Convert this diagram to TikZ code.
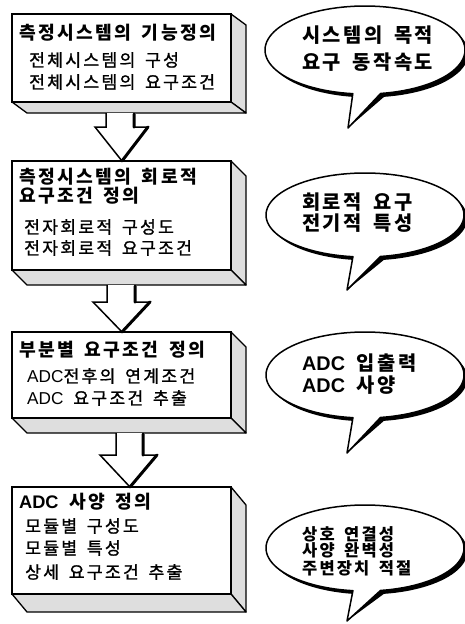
\documentclass[tikz,border=0pt]{standalone}
\usepackage{fontspec}
\newfontfamily\kr[LetterSpace=13, WordSpace=1.6]{Noto Sans CJK KR}
\newfontfamily\krm[LetterSpace=13, WordSpace=1.6, FakeBold=1.2]{Noto Sans CJK KR}
\newfontfamily\arl{Liberation Sans}
\usetikzlibrary{calc}
\tikzset{
  front/.style={draw, line width=1.6pt, fill=white, inner sep=0pt, outer sep=0pt, anchor=north west},
  sideface/.style={draw, line width=1.3pt, fill=black!13, line join=round},
  ttl/.style={anchor=west, inner sep=0pt, font=\kr\bfseries\fontsize{18.2}{18.2}\selectfont},
  itm/.style={anchor=west, inner sep=0pt, font=\krm\fontsize{17.2}{17.2}\selectfont},
  btxt/.style={anchor=west, inner sep=0pt, font=\kr\bfseries\fontsize{19.8}{19.8}\selectfont},
  btxs/.style={anchor=west, inner sep=0pt, font=\kr\bfseries\fontsize{16.5}{16.5}\selectfont},
  barrowst/.style={draw, line width=1.5pt, fill=white, line join=miter},
  barrowsh/.style={line width=3pt, line cap=round, line join=round},
  bubsh/.style={fill=black},
  bubst/.style={draw, line width=1.5pt, fill=white, line join=round},
}
% slab: name, top y, height, depth y
\newcommand\myslab[4]{%
  \node[front, minimum width=219pt, minimum height=#3pt] (#1) at (12,#2) {};
  \draw[sideface] (#1.north east) -- ++(15,#4) -- ($(#1.south east)+(15,#4)$) -- (#1.south east) -- cycle;
  \draw[sideface] (#1.south west) -- (#1.south east) -- ++(15,#4) -- ($(#1.south west)+(15,#4)$) -- cycle;
  \node[front, minimum width=219pt, minimum height=#3pt] at (12,#2) {};
}
% bubble: center x, center y, rx, ry, tip name
\newcommand\mybubble[5]{%
  \fill[bubsh, shift={(3.4,3.4)}] plot[domain=97:441, samples=100] ({#1+#3*cos(\x)},{#2+#4*sin(\x)}) -- (#5) -- cycle;
  \draw[bubst] plot[domain=97:441, samples=100] ({#1+#3*cos(\x)},{#2+#4*sin(\x)}) -- (#5) -- cycle;
}
\begin{document}
\begin{tikzpicture}[x=1pt, y=-1pt]
\useasboundingbox (0,0) rectangle (465,624);
\fill[white] (0,0) rectangle (465,624);

% ---------- slabs ----------
\myslab{b1}{14}{88}{11}
\myslab{b2}{161}{109}{15}
\myslab{b3}{332}{86}{15}
\myslab{b4}{487}{107}{18}

% ---------- block arrows ----------
\coordinate (t1) at (122,0 |- b2.north);
\draw[barrowst] (106,113) -- (106,127) -- (95,127) -- (t1) -- (148,127) -- (134,127) -- (134,113);
\draw[barrowsh] (134,114) -- (134,127) (148,127) -- (t1);

\coordinate (t2) at (122,0 |- b3.north);
\draw[barrowst] (107,285) -- (107,302) -- (93,302) -- (t2) -- (150,302) -- (135,302) -- (135,285);
\draw[barrowsh] (135,286) -- (135,302) (150,302) -- (t2);

\coordinate (t3) at (130,0 |- b4.north);
\draw[barrowst] (116,433) -- (116,455) -- (100,455) -- (t3) -- (157,455) -- (143,455) -- (143,433);
\draw[barrowsh] (143,434) -- (143,455) (157,455) -- (t3);

% ---------- box texts ----------
\node[ttl] (b1t) at (19,33) {측정시스템의 기능정의};
\node[itm] (b1a) at (29,60) {전체시스템의 구성};
\node[itm] (b1b) at (29,82) {전체시스템의 요구조건};

\node[ttl] (b2t) at (19,177) {측정시스템의 회로적};
\node[ttl] (b2u) at (19,196) {요구조건 정의};
\node[itm] (b2a) at (24,227) {전자회로적 구성도};
\node[itm] (b2b) at (24,248) {전자회로적 요구조건};

\node[ttl] (b3t) at (19,350) {부분별 요구조건 정의};
\node[itm] (b3a) at (27,376) {{\arl ADC}전후의 연계조건};
\node[itm] (b3b) at (27,398) {{\arl ADC} 요구조건 추출};

\node[ttl] (b4t) at (19,502) {{\arl ADC} 사양 정의};
\node[itm] (b4a) at (25,526) {모듈별 구성도};
\node[itm] (b4b) at (25,548) {모듈별 특성};
\node[itm] (b4c) at (25,572) {상세 요구조건 추출};

% ---------- bubbles ----------
\coordinate (p1) at (348,128);
\mybubble{365}{50}{100}{44}{p1}
\node[btxt] (c1a) at (302,35) {시스템의 목적};
\node[btxt] (c1b) at (302,62) {요구 동작속도};

\coordinate (p2) at (347,290);
\mybubble{365}{215}{99}{42}{p2}
\node[btxt] (c2a) at (302,202) {회로적 요구};
\node[btxt] (c2b) at (302,223) {전기적 특성};

\coordinate (p3) at (347,453);
\mybubble{365}{375}{99}{43}{p3}
\node[btxt] (c3a) at (302,363) {{\arl ADC} 입출력};
\node[btxt] (c3b) at (302,385) {{\arl ADC} 사양};

\coordinate (p4) at (347,621);
\mybubble{365}{548}{99}{43}{p4}
\node[btxs] (c4a) at (302,534) {상호 연결성};
\node[btxs] (c4b) at (302,550) {사양 완벽성};
\node[btxs] (c4c) at (302,568) {주변장치 적절};
\end{tikzpicture}
\end{document}
